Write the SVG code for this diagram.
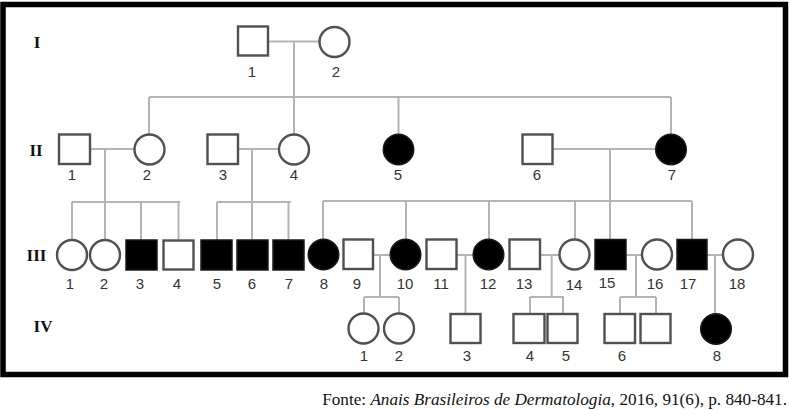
<svg xmlns="http://www.w3.org/2000/svg" width="789" height="410" viewBox="0 0 789 410">
<style>
.ln{stroke:#b4b4b4;stroke-width:2;fill:none}
.o{fill:#fff;stroke:#505050;stroke-width:2.4}
.f{fill:#000;stroke:#1a1a1a;stroke-width:1.5}
.n{font-family:"Liberation Sans",Arial,sans-serif;font-size:15px;fill:#333;text-anchor:middle}
.g{font-family:"Liberation Serif","Times New Roman",serif;font-size:17px;font-weight:bold;fill:#111;text-anchor:middle}
.src{font-family:"Liberation Serif","Times New Roman",serif;font-size:17.2px;fill:#111}
</style>
<rect x="0" y="0" width="789" height="410" fill="#fff"/>
<rect x="3" y="4.5" width="782.5" height="370" fill="#fff" stroke="#000" stroke-width="5.5"/>

<g id="gen-labels">
<text class="g" x="37" y="48">I</text>
<text class="g" x="36" y="156">II</text>
<text class="g" x="36.5" y="261">III</text>
<text class="g" x="43" y="332">IV</text>
</g>

<g id="connectors">
<path class="ln" d="M268 41.5H319 M294 41.5V134 M149 97H671 M149 97V134 M398.5 97V134 M671 97V134"/>
<path class="ln" d="M90 149H134 M105 149V239 M72 202H180 M72 202V240 M141 202V240 M178.5 202V240"/>
<path class="ln" d="M238 149H279 M252 149V239 M217 202H291 M217 202V240 M288.5 202V240"/>
<path class="ln" d="M553 149H656 M610 149V239 M323 201H692 M323 201V239 M406 201V239 M489 201V239 M575 201V239 M692 201V239"/>
<path class="ln" d="M373 255H390 M380 255V297 M364 297H399 M364 297V313 M399 297V313"/>
<path class="ln" d="M457 255H473 M465.5 255V314"/>
<path class="ln" d="M540 255H559 M551.7 255V297 M530 297H564 M530 297V314 M563 297V314"/>
<path class="ln" d="M626 255H642 M636 255V297 M620 297H656 M620 297V314 M656 297V314"/>
<path class="ln" d="M707 255H723 M715 255V313"/>
</g>

<g id="I-1"><rect class="o" x="238" y="26.5" width="30" height="29"/><text class="n" x="252" y="77">1</text></g>
<g id="I-2"><circle class="o" cx="334.5" cy="42" r="15"/><text class="n" x="336" y="77">2</text></g>

<g id="II-1"><rect class="o" x="59" y="134.5" width="31" height="29.5"/><text class="n" x="72" y="180">1</text></g>
<g id="II-2"><circle class="o" cx="149.5" cy="149.5" r="15"/><text class="n" x="147" y="180">2</text></g>
<g id="II-3"><rect class="o" x="207.5" y="134.5" width="30.5" height="29.5"/><text class="n" x="223" y="180">3</text></g>
<g id="II-4"><circle class="o" cx="294" cy="149.5" r="15"/><text class="n" x="294" y="180">4</text></g>
<g id="II-5"><circle class="f" cx="398.5" cy="149.5" r="15.2"/><text class="n" x="398" y="180">5</text></g>
<g id="II-6"><rect class="o" x="522.5" y="134.5" width="30" height="29.5"/><text class="n" x="537" y="180">6</text></g>
<g id="II-7"><circle class="f" cx="671" cy="149.5" r="15.3"/><text class="n" x="672" y="180">7</text></g>

<g id="III-1"><circle class="o" cx="72" cy="255" r="15"/><text class="n" x="70" y="289">1</text></g>
<g id="III-2"><circle class="o" cx="105" cy="255" r="15"/><text class="n" x="104" y="289">2</text></g>
<g id="III-3"><rect class="f" x="126" y="240" width="31" height="30"/><text class="n" x="140" y="289">3</text></g>
<g id="III-4"><rect class="o" x="163.5" y="240.5" width="30" height="29"/><text class="n" x="177" y="289">4</text></g>
<g id="III-5"><rect class="f" x="201" y="240" width="31" height="30"/><text class="n" x="217" y="289">5</text></g>
<g id="III-6"><rect class="f" x="237" y="240" width="31" height="30"/><text class="n" x="252" y="289">6</text></g>
<g id="III-7"><rect class="f" x="273" y="240" width="31" height="30"/><text class="n" x="289" y="289">7</text></g>
<g id="III-8"><circle class="f" cx="323.5" cy="254.5" r="15.3"/><text class="n" x="324" y="289">8</text></g>
<g id="III-9"><rect class="o" x="343.5" y="239.5" width="29.5" height="29.5"/><text class="n" x="357" y="289">9</text></g>
<g id="III-10"><circle class="f" cx="405.5" cy="254.5" r="15.3"/><text class="n" x="405" y="289">10</text></g>
<g id="III-11"><rect class="o" x="426.5" y="239.5" width="30" height="29.5"/><text class="n" x="441" y="289">11</text></g>
<g id="III-12"><circle class="f" cx="488.5" cy="254.5" r="15.3"/><text class="n" x="488" y="289">12</text></g>
<g id="III-13"><rect class="o" x="509.5" y="239.5" width="30.5" height="29.5"/><text class="n" x="524" y="289">13</text></g>
<g id="III-14"><circle class="o" cx="574.5" cy="254.5" r="15"/><text class="n" x="574" y="290">14</text></g>
<g id="III-15"><rect class="f" x="595" y="239.5" width="31" height="30"/><text class="n" x="607" y="288">15</text></g>
<g id="III-16"><circle class="o" cx="657" cy="254.5" r="15"/><text class="n" x="655" y="289">16</text></g>
<g id="III-17"><rect class="f" x="677" y="239.5" width="30" height="30"/><text class="n" x="688" y="289">17</text></g>
<g id="III-18"><circle class="o" cx="738" cy="254.5" r="15"/><text class="n" x="737" y="289">18</text></g>

<g id="IV-1"><circle class="o" cx="363.5" cy="328.5" r="15"/><text class="n" x="364" y="361">1</text></g>
<g id="IV-2"><circle class="o" cx="399" cy="328.5" r="15"/><text class="n" x="399" y="361">2</text></g>
<g id="IV-3"><rect class="o" x="450.5" y="314" width="30" height="29"/><text class="n" x="467" y="361">3</text></g>
<g id="IV-4"><rect class="o" x="513.5" y="314" width="31" height="29"/><text class="n" x="530" y="361">4</text></g>
<g id="IV-5"><rect class="o" x="547.5" y="314" width="30" height="29"/><text class="n" x="566" y="361">5</text></g>
<g id="IV-6"><rect class="o" x="604.5" y="314" width="30.5" height="29"/><text class="n" x="622" y="361">6</text></g>
<g id="IV-7"><rect class="o" x="640.5" y="314" width="30" height="29"/></g>
<g id="IV-8"><circle class="f" cx="716" cy="329" r="15.3"/><text class="n" x="717" y="361">8</text></g>

<text class="src" x="787" y="405" text-anchor="end">Fonte: <tspan font-style="italic">Anais Brasileiros de Dermatologia</tspan>, 2016, 91(6), p. 840-841.</text>
</svg>
